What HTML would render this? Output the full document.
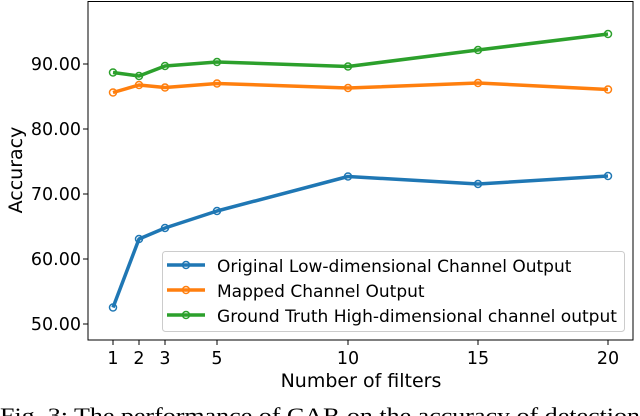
<!DOCTYPE html>
<html><head><meta charset="utf-8"><style>
html,body{margin:0;padding:0;background:#fff;width:640px;height:416px;overflow:hidden}
svg{display:block}
</style></head><body>
<svg width="640" height="416" viewBox="0 0 640 416" xmlns="http://www.w3.org/2000/svg" font-family="DejaVu Sans, sans-serif">
<rect x="0" y="0" width="640" height="416" fill="#fff"/>
<g fill="none" stroke-width="3.5" stroke-linejoin="round">
<polyline stroke="#1f77b4" points="113,307.5 139,239 165,228 217,211 348,176.5 478,184 608,176"/>
<polyline stroke="#ff7f0e" points="113,92.5 139,85 165,87.5 217,83.5 348,88 478,83 608,89.5"/>
<polyline stroke="#2ca02c" points="113,72.5 139,76 165,66 217,62 348,66.5 478,50 608,34"/>
</g>
<g fill="none" stroke-width="1.5">
<g stroke="#1f77b4"><circle cx="113" cy="307.5" r="3.5"/><circle cx="139" cy="239" r="3.5"/><circle cx="165" cy="228" r="3.5"/><circle cx="217" cy="211" r="3.5"/><circle cx="348" cy="176.5" r="3.5"/><circle cx="478" cy="184" r="3.5"/><circle cx="608" cy="176" r="3.5"/></g>
<g stroke="#ff7f0e"><circle cx="113" cy="92.5" r="3.5"/><circle cx="139" cy="85" r="3.5"/><circle cx="165" cy="87.5" r="3.5"/><circle cx="217" cy="83.5" r="3.5"/><circle cx="348" cy="88" r="3.5"/><circle cx="478" cy="83" r="3.5"/><circle cx="608" cy="89.5" r="3.5"/></g>
<g stroke="#2ca02c"><circle cx="113" cy="72.5" r="3.5"/><circle cx="139" cy="76" r="3.5"/><circle cx="165" cy="66" r="3.5"/><circle cx="217" cy="62" r="3.5"/><circle cx="348" cy="66.5" r="3.5"/><circle cx="478" cy="50" r="3.5"/><circle cx="608" cy="34" r="3.5"/></g>
</g>
<rect x="88" y="1.5" width="545" height="338.5" fill="none" stroke="#000" stroke-width="1"/>
<g stroke="#000" stroke-width="1">
<line x1="113" y1="340" x2="113" y2="345"/><line x1="139" y1="340" x2="139" y2="345"/><line x1="165" y1="340" x2="165" y2="345"/><line x1="217" y1="340" x2="217" y2="345"/><line x1="348" y1="340" x2="348" y2="345"/><line x1="478" y1="340" x2="478" y2="345"/><line x1="608" y1="340" x2="608" y2="345"/>
<line x1="83" y1="64" x2="88" y2="64"/><line x1="83" y1="129" x2="88" y2="129"/><line x1="83" y1="194" x2="88" y2="194"/><line x1="83" y1="259" x2="88" y2="259"/><line x1="83" y1="324" x2="88" y2="324"/>
</g>
<g font-size="17.5" fill="#000" text-anchor="middle">
<text x="113" y="364">1</text><text x="139" y="364">2</text><text x="165" y="364">3</text><text x="217" y="364">5</text><text x="348" y="364">10</text><text x="478" y="364">15</text><text x="608" y="364">20</text>
</g>
<g font-size="17.5" fill="#000" text-anchor="end">
<text x="81" y="70">90.00</text><text x="81" y="135">80.00</text><text x="81" y="200">70.00</text><text x="81" y="265">60.00</text><text x="81" y="330">50.00</text>
</g>
<text x="361" y="387" font-size="19" text-anchor="middle">Number of filters</text>
<text transform="translate(22,170) rotate(-90)" font-size="19" text-anchor="middle">Accuracy</text>
<rect x="162.5" y="251.5" width="462" height="80" rx="3" fill="#fff" fill-opacity="0.8" stroke="#ccc" stroke-width="1"/>
<g stroke-width="3.5"><line x1="167" y1="265" x2="205" y2="265" stroke="#1f77b4"/><line x1="167" y1="290" x2="205" y2="290" stroke="#ff7f0e"/><line x1="167" y1="315" x2="205" y2="315" stroke="#2ca02c"/></g>
<g fill="none" stroke-width="1.5"><circle cx="186" cy="265" r="3.5" stroke="#1f77b4"/><circle cx="186" cy="290" r="3.5" stroke="#ff7f0e"/><circle cx="186" cy="315" r="3.5" stroke="#2ca02c"/></g>
<g font-size="17" fill="#000">
<text x="217" y="272">Original Low-dimensional Channel Output</text>
<text x="217" y="297">Mapped Channel Output</text>
<text x="217" y="322" textLength="400" lengthAdjust="spacingAndGlyphs">Ground Truth High-dimensional channel output</text>
</g>
<text x="0" y="423" font-family="Liberation Serif, serif" font-size="22" textLength="640" lengthAdjust="spacingAndGlyphs">Fig. 3: The performance of CAR on the accuracy of detection</text>
</svg>
</body></html>
